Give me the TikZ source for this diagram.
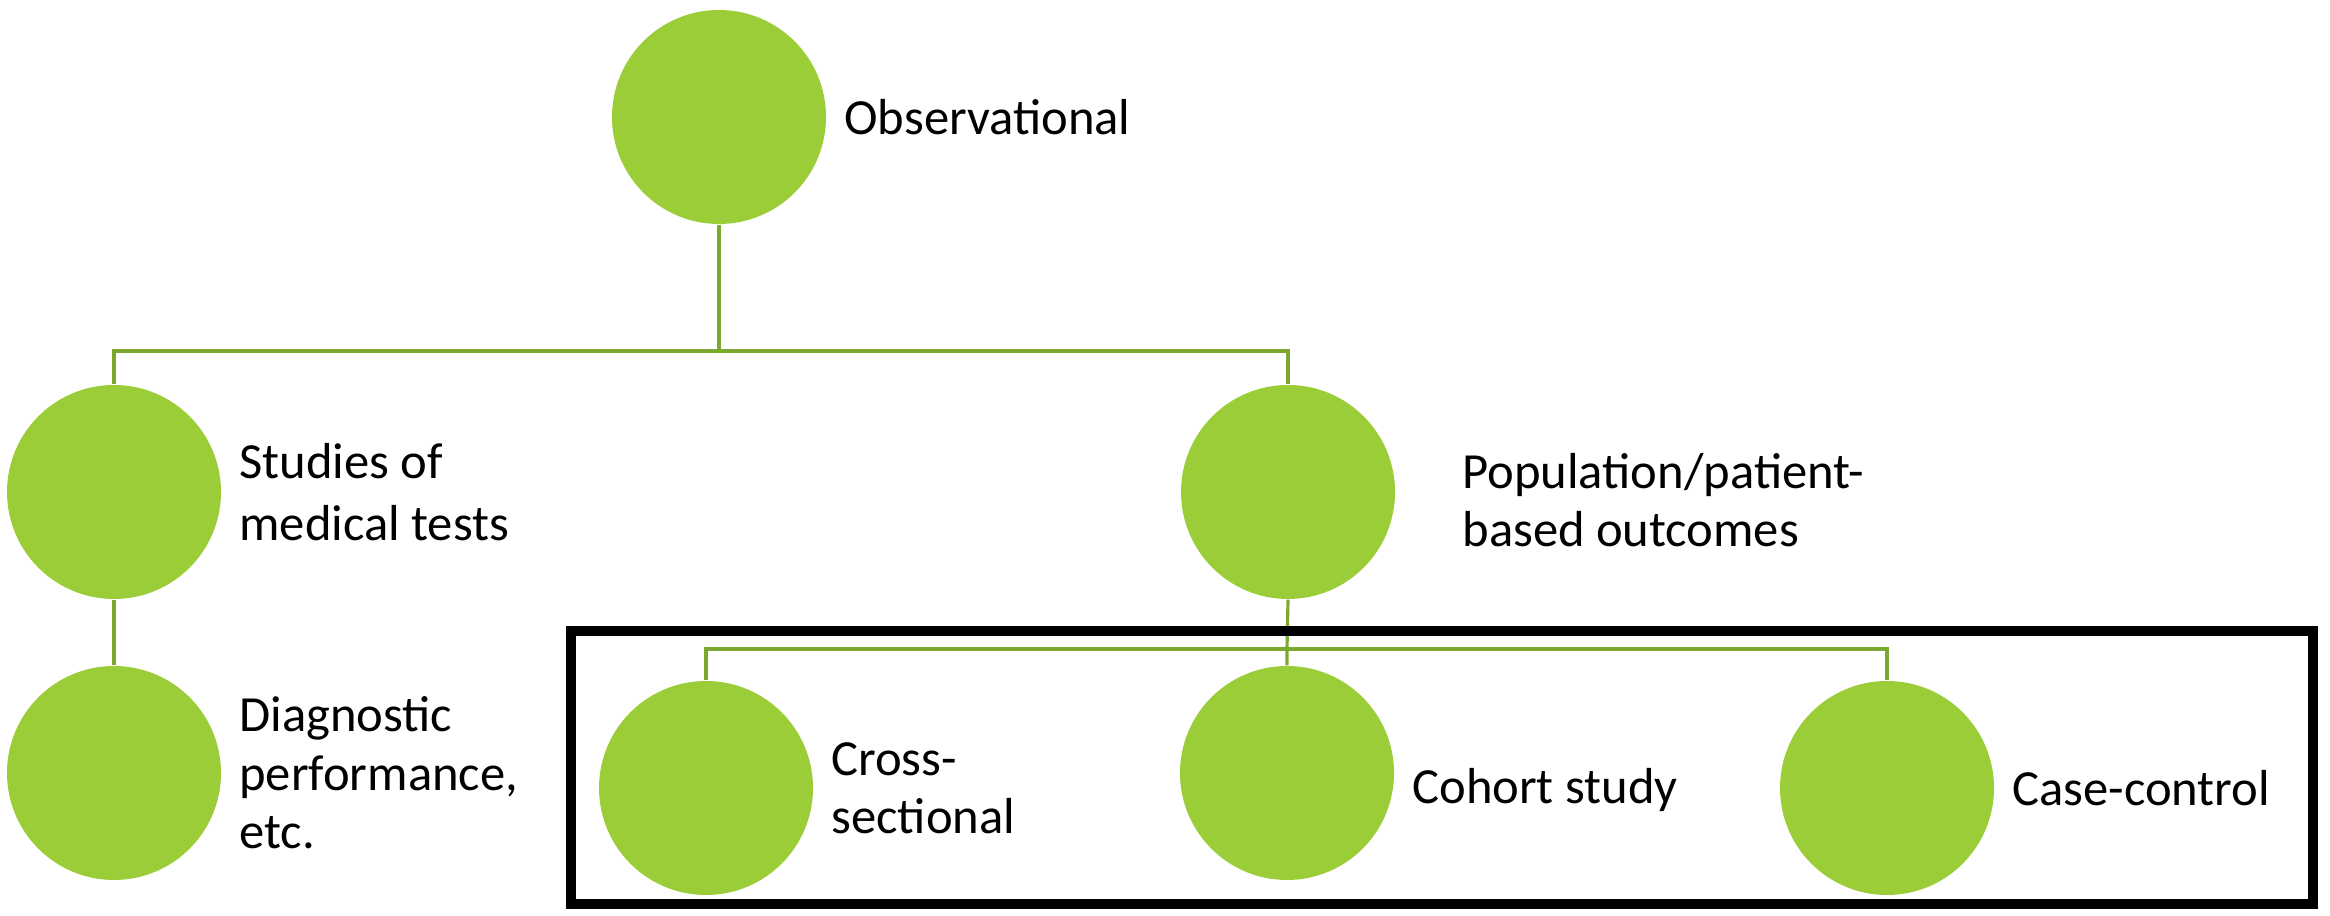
\documentclass[tikz,border=0pt]{standalone}
\usepackage{fontspec}
\setmainfont{Carlito}
\usepackage{tikz}
\usetikzlibrary{positioning, calc}
\definecolor{LeafGreen}{RGB}{154,205,55}
\definecolor{StemGreen}{RGB}{125,168,48}

\begin{document}
\begin{tikzpicture}[
          bubble/.style={circle, fill=LeafGreen, minimum size=2.14cm,
                         inner sep=0pt},
          tag/.style={anchor=west, inner sep=0pt, xshift=0.17cm,
                      font=\fontsize{14.4}{16.6}\selectfont, align=left},
          stem/.style={StemGreen, line width=0.9pt},
          frame/.style={draw=black, line width=2.9pt}
        ]
        \useasboundingbox (0,0) rectangle (23.3,-9.16);

        % Top level
        \node[bubble] (obs) at (7.19,-1.17) {};
        \node[tag] (obsT) at (obs.east) {Observational};

        % Second level
        \node[bubble] (med) at (1.14,-4.92) {};
        \node[tag, font=\fontsize{14.4}{17.6}\selectfont] (medT) at (med.east)
              {Studies of\\medical tests};
        \node[bubble] (pop) at (12.88,-4.92) {};
        \node[tag, yshift=-0.08cm] (popT) at ($(pop.east)+(0.49,0)$)
              {Population/patient-\\based outcomes};

        % Third level
        \node[bubble] (diag) at (1.14,-7.73) {};
        \node[tag] (diagT) at (diag.east) {Diagnostic\\performance,\\etc.};
        \node[bubble] (cross) at (7.06,-7.88) {};
        \node[tag] (crossT) at (cross.east) {Cross-\\sectional};
        \node[bubble] (cohort) at (12.87,-7.73) {};
        \node[tag, yshift=-0.17cm] (cohortT) at (cohort.east) {Cohort study};
        \node[bubble] (case) at (18.87,-7.88) {};
        \node[tag] (caseT) at (case.east) {Case-control};

        % Branch points
        \coordinate (fork1) at (7.19,-3.51);
        \coordinate (fork2) at (12.87,-6.49);

        % Connectors
        \draw[stem] (obs.south) -- (fork1) -| (med.north);
        \draw[stem] (fork1) -| (pop.north);
        \draw[stem] (med.south) -- (diag.north);
        \draw[stem] (pop.south) -- (fork2) -- (cohort.north);
        \draw[stem] (fork2) -| (cross.north);
        \draw[stem] (fork2) -| (case.north);

        % Highlight box
        \draw[frame] (5.71,-6.31) rectangle (23.13,-9.04);
      \end{tikzpicture}
\end{document}
